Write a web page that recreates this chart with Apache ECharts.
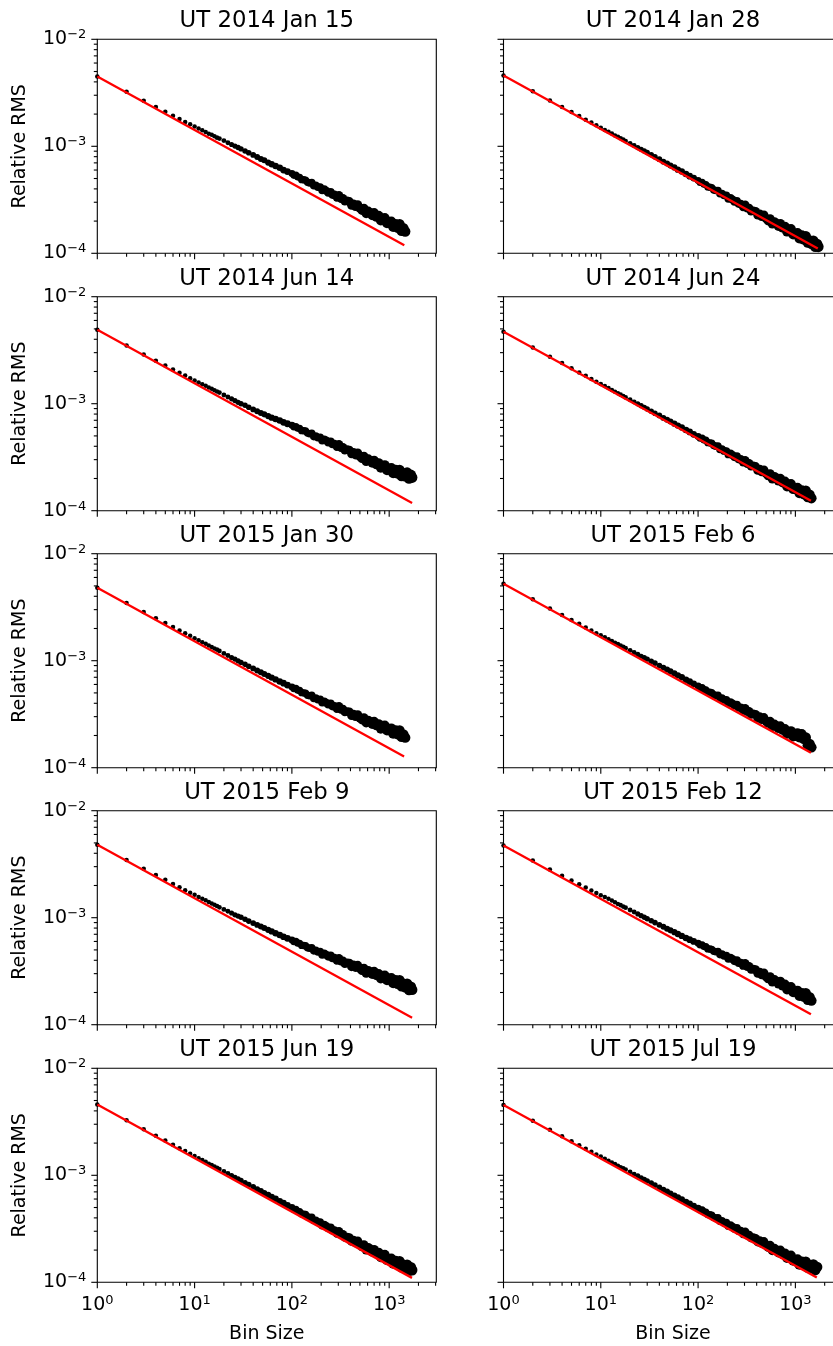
<!DOCTYPE html>
<html><head><meta charset="utf-8">
<script src="https://cdn.jsdelivr.net/npm/echarts@6/dist/echarts.min.js"></script>
<style>html,body{margin:0;padding:0;background:#fff}#c{width:833px;height:1346px}</style>
</head><body><div id="c"></div>
<script>
// ---------------- DATA ----------------
const binSizes = [1,2,3,4,5,6,7,8,9,10,11,12,13,14,15,16,17,18,20,22,24,26,28,30,33,36,40,44,48,52,57,62,68,75,82,90,
  100,105,110,115,120,126,132,138,145,152,160,168,176,185,195,205,215,225,237,250,262,275,290,305,320,335,350,370,390,410,
  430,450,475,500,525,550,580,610,640,670,700,740,780,820,860,900,950,1000,1050,1100,1160,1220,1280,1340,1400,1460,1530,1600,1670,1720];

const panelTitles = ['UT 2014 Jan 15','UT 2014 Jan 28','UT 2014 Jun 14','UT 2014 Jun 24','UT 2015 Jan 30','UT 2015 Feb 6','UT 2015 Feb 9','UT 2015 Feb 12','UT 2015 Jun 19','UT 2015 Jul 19'];

const rms2014Jan15 = [45.0e-4,32.3e-4,26.6e-4,23.3e-4,21.0e-4,19.3e-4,18.0e-4,16.9e-4,16.05e-4,15.3e-4,14.65e-4,14.1e-4,13.6e-4,13.1e-4,12.8e-4,12.4e-4,12.05e-4,11.8e-4,11.3e-4,10.8e-4,10.4e-4,10.05e-4,9.75e-4,9.45e-4,9.05e-4,8.7e-4,8.3e-4,7.95e-4,7.6e-4,7.4e-4,7.05e-4,6.8e-4,6.55e-4,6.3e-4,6.0e-4,5.8e-4,
  5.56e-4,5.35e-4,5.38e-4,5.16e-4,5.14e-4,4.88e-4,4.87e-4,4.83e-4,4.61e-4,4.55e-4,4.58e-4,4.28e-4,4.32e-4,4.16e-4,4.16e-4,3.88e-4,3.96e-4,3.85e-4,3.68e-4,3.74e-4,3.52e-4,3.53e-4,3.32e-4,3.49e-4,3.24e-4,3.27e-4,3.06e-4,3.09e-4,3.05e-4,2.81e-4,2.89e-4,2.73e-4,2.84e-4,2.63e-4,2.52e-4,2.63e-4,2.35e-4,2.47e-4,2.38e-4,2.26e-4,2.39e-4,2.18e-4,2.25e-4,2.02e-4,2.10e-4,2.14e-4,1.91e-4,1.92e-4,1.98e-4,1.76e-4,1.88e-4,1.73e-4,1.87e-4,1.62e-4,1.72e-4,1.60e-4];
const rms2014Jan28 = [45.8e-4,32.7e-4,26.85e-4,23.35e-4,20.9e-4,19.15e-4,17.75e-4,16.7e-4,15.7e-4,14.9e-4,14.2e-4,13.7e-4,13.15e-4,12.65e-4,12.25e-4,11.9e-4,11.55e-4,11.2e-4,10.65e-4,10.15e-4,9.72e-4,9.38e-4,9.05e-4,8.74e-4,8.33e-4,7.97e-4,7.57e-4,7.18e-4,6.9e-4,6.6e-4,6.34e-4,6.05e-4,5.81e-4,5.5e-4,5.26e-4,5.05e-4,
  4.78e-4,4.59e-4,4.61e-4,4.42e-4,4.39e-4,4.17e-4,4.15e-4,4.11e-4,3.91e-4,3.86e-4,3.87e-4,3.60e-4,3.62e-4,3.48e-4,3.47e-4,3.23e-4,3.29e-4,3.19e-4,3.04e-4,3.08e-4,2.90e-4,2.90e-4,2.71e-4,2.84e-4,2.63e-4,2.65e-4,2.48e-4,2.50e-4,2.47e-4,2.27e-4,2.33e-4,2.20e-4,2.28e-4,2.11e-4,2.01e-4,2.10e-4,1.88e-4,1.97e-4,1.89e-4,1.79e-4,1.89e-4,1.73e-4,1.78e-4,1.59e-4,1.66e-4,1.69e-4,1.50e-4,1.51e-4,1.55e-4,1.38e-4,1.47e-4,1.34e-4,1.45e-4,1.26e-4,1.32e-4,1.23e-4,1.31e-4,1.15e-4,1.22e-4,1.15e-4];
const rms2014Jun14 = [49.0e-4,35.0e-4,28.85e-4,25.2e-4,22.8e-4,20.9e-4,19.45e-4,18.3e-4,17.3e-4,16.5e-4,15.8e-4,15.2e-4,14.7e-4,14.2e-4,13.8e-4,13.35e-4,13.0e-4,12.7e-4,12.05e-4,11.55e-4,11.1e-4,10.7e-4,10.3e-4,10.0e-4,9.65e-4,9.27e-4,8.83e-4,8.5e-4,8.2e-4,7.95e-4,7.66e-4,7.4e-4,7.2e-4,6.96e-4,6.7e-4,6.5e-4,
  6.30e-4,6.07e-4,6.12e-4,5.89e-4,5.87e-4,5.60e-4,5.60e-4,5.56e-4,5.31e-4,5.24e-4,5.28e-4,4.93e-4,4.99e-4,4.82e-4,4.84e-4,4.53e-4,4.64e-4,4.52e-4,4.34e-4,4.42e-4,4.18e-4,4.20e-4,3.95e-4,4.18e-4,3.88e-4,3.92e-4,3.68e-4,3.72e-4,3.69e-4,3.40e-4,3.50e-4,3.32e-4,3.46e-4,3.21e-4,3.08e-4,3.22e-4,2.89e-4,3.04e-4,2.93e-4,2.79e-4,2.95e-4,2.70e-4,2.79e-4,2.51e-4,2.62e-4,2.67e-4,2.39e-4,2.42e-4,2.50e-4,2.24e-4,2.41e-4,2.22e-4,2.41e-4,2.11e-4,2.24e-4,2.10e-4,2.27e-4,2.00e-4,2.16e-4,2.04e-4];
const rms2014Jun24 = [47.0e-4,33.6e-4,27.5e-4,24.0e-4,21.45e-4,19.6e-4,18.2e-4,17.05e-4,16.05e-4,15.3e-4,14.6e-4,14.0e-4,13.4e-4,12.95e-4,12.5e-4,12.15e-4,11.8e-4,11.45e-4,10.9e-4,10.37e-4,9.97e-4,9.58e-4,9.24e-4,8.92e-4,8.5e-4,8.15e-4,7.77e-4,7.37e-4,7.09e-4,6.81e-4,6.51e-4,6.24e-4,5.99e-4,5.67e-4,5.45e-4,5.17e-4,
  4.95e-4,4.76e-4,4.78e-4,4.58e-4,4.56e-4,4.32e-4,4.31e-4,4.27e-4,4.06e-4,4.01e-4,4.02e-4,3.74e-4,3.77e-4,3.62e-4,3.61e-4,3.36e-4,3.43e-4,3.32e-4,3.17e-4,3.22e-4,3.02e-4,3.03e-4,2.83e-4,2.97e-4,2.75e-4,2.78e-4,2.60e-4,2.62e-4,2.59e-4,2.38e-4,2.45e-4,2.31e-4,2.40e-4,2.22e-4,2.12e-4,2.21e-4,1.98e-4,2.08e-4,2.00e-4,1.90e-4,2.00e-4,1.83e-4,1.88e-4,1.68e-4,1.75e-4,1.78e-4,1.59e-4,1.59e-4,1.64e-4,1.46e-4,1.55e-4,1.42e-4,1.54e-4,1.34e-4,1.41e-4,1.31e-4];
const rms2015Jan30 = [48.0e-4,34.6e-4,28.5e-4,24.95e-4,22.5e-4,20.7e-4,19.2e-4,18.05e-4,17.1e-4,16.25e-4,15.55e-4,14.9e-4,14.4e-4,13.85e-4,13.45e-4,13.0e-4,12.7e-4,12.33e-4,11.7e-4,11.2e-4,10.73e-4,10.35e-4,9.98e-4,9.64e-4,9.24e-4,8.88e-4,8.46e-4,8.1e-4,7.8e-4,7.52e-4,7.22e-4,6.95e-4,6.69e-4,6.4e-4,6.17e-4,5.92e-4,
  5.69e-4,5.48e-4,5.51e-4,5.29e-4,5.28e-4,5.02e-4,5.01e-4,4.97e-4,4.75e-4,4.70e-4,4.74e-4,4.43e-4,4.48e-4,4.33e-4,4.34e-4,4.06e-4,4.16e-4,4.05e-4,3.89e-4,3.97e-4,3.75e-4,3.77e-4,3.55e-4,3.75e-4,3.49e-4,3.53e-4,3.31e-4,3.35e-4,3.33e-4,3.07e-4,3.17e-4,3.00e-4,3.13e-4,2.91e-4,2.80e-4,2.93e-4,2.63e-4,2.77e-4,2.68e-4,2.55e-4,2.70e-4,2.48e-4,2.56e-4,2.31e-4,2.42e-4,2.48e-4,2.23e-4,2.26e-4,2.33e-4,2.08e-4,2.23e-4,2.05e-4,2.23e-4,1.94e-4,2.05e-4,1.91e-4];
const rms2015Feb6 = [52.5e-4,37.5e-4,30.75e-4,26.8e-4,24.05e-4,22.1e-4,20.45e-4,19.2e-4,18.1e-4,17.3e-4,16.55e-4,15.85e-4,15.3e-4,14.75e-4,14.3e-4,13.85e-4,13.5e-4,13.1e-4,12.5e-4,11.9e-4,11.45e-4,11.0e-4,10.65e-4,10.35e-4,9.87e-4,9.5e-4,9.0e-4,8.62e-4,8.26e-4,7.94e-4,7.61e-4,7.3e-4,7.0e-4,6.64e-4,6.38e-4,6.08e-4,
  5.80e-4,5.58e-4,5.61e-4,5.38e-4,5.35e-4,5.09e-4,5.08e-4,5.03e-4,4.80e-4,4.74e-4,4.76e-4,4.44e-4,4.48e-4,4.31e-4,4.31e-4,4.02e-4,4.10e-4,3.98e-4,3.81e-4,3.87e-4,3.64e-4,3.65e-4,3.42e-4,3.60e-4,3.34e-4,3.37e-4,3.15e-4,3.18e-4,3.15e-4,2.90e-4,2.99e-4,2.82e-4,2.94e-4,2.72e-4,2.60e-4,2.71e-4,2.43e-4,2.55e-4,2.45e-4,2.33e-4,2.45e-4,2.24e-4,2.31e-4,2.07e-4,2.16e-4,2.20e-4,1.96e-4,1.98e-4,2.10e-4,1.92e-4,2.06e-4,1.85e-4,1.92e-4,1.62e-4,1.67e-4,1.55e-4];
const rms2015Feb9 = [48.1e-4,34.7e-4,28.6e-4,25.0e-4,22.6e-4,20.7e-4,19.3e-4,18.1e-4,17.15e-4,16.35e-4,15.65e-4,15.05e-4,14.55e-4,14.0e-4,13.6e-4,13.2e-4,12.85e-4,12.5e-4,11.95e-4,11.5e-4,11.05e-4,10.65e-4,10.35e-4,10.1e-4,9.67e-4,9.3e-4,8.9e-4,8.56e-4,8.26e-4,8.0e-4,7.71e-4,7.45e-4,7.17e-4,6.89e-4,6.64e-4,6.41e-4,
  6.18e-4,5.96e-4,6.01e-4,5.78e-4,5.77e-4,5.50e-4,5.50e-4,5.47e-4,5.24e-4,5.19e-4,5.24e-4,4.90e-4,4.96e-4,4.80e-4,4.82e-4,4.51e-4,4.62e-4,4.51e-4,4.33e-4,4.42e-4,4.18e-4,4.21e-4,3.97e-4,4.19e-4,3.91e-4,3.96e-4,3.72e-4,3.78e-4,3.76e-4,3.48e-4,3.61e-4,3.43e-4,3.59e-4,3.34e-4,3.21e-4,3.37e-4,3.03e-4,3.20e-4,3.10e-4,2.96e-4,3.14e-4,2.89e-4,2.99e-4,2.70e-4,2.82e-4,2.89e-4,2.60e-4,2.64e-4,2.73e-4,2.44e-4,2.61e-4,2.41e-4,2.61e-4,2.28e-4,2.41e-4,2.24e-4,2.41e-4,2.11e-4,2.26e-4,2.12e-4];
const rms2015Feb12 = [47.4e-4,34.2e-4,28.2e-4,24.65e-4,22.25e-4,20.5e-4,19.15e-4,18.0e-4,17.05e-4,16.25e-4,15.6e-4,15.0e-4,14.45e-4,13.95e-4,13.45e-4,13.1e-4,12.7e-4,12.4e-4,11.8e-4,11.3e-4,10.85e-4,10.45e-4,10.1e-4,9.78e-4,9.36e-4,9.0e-4,8.58e-4,8.22e-4,7.9e-4,7.62e-4,7.32e-4,7.04e-4,6.76e-4,6.46e-4,6.23e-4,6.0e-4,
  5.76e-4,5.55e-4,5.59e-4,5.37e-4,5.36e-4,5.10e-4,5.10e-4,5.06e-4,4.85e-4,4.80e-4,4.84e-4,4.52e-4,4.57e-4,4.41e-4,4.42e-4,4.13e-4,4.23e-4,4.11e-4,3.93e-4,4.00e-4,3.78e-4,3.79e-4,3.56e-4,3.76e-4,3.48e-4,3.52e-4,3.29e-4,3.31e-4,3.28e-4,3.02e-4,3.10e-4,2.93e-4,3.05e-4,2.81e-4,2.69e-4,2.80e-4,2.51e-4,2.63e-4,2.53e-4,2.41e-4,2.54e-4,2.31e-4,2.38e-4,2.13e-4,2.21e-4,2.25e-4,2.01e-4,2.02e-4,2.08e-4,1.86e-4,1.98e-4,1.82e-4,1.97e-4,1.71e-4,1.81e-4,1.68e-4];
const rms2015Jun19 = [45.8e-4,32.7e-4,26.95e-4,23.45e-4,21.1e-4,19.25e-4,17.9e-4,16.85e-4,15.9e-4,15.15e-4,14.45e-4,13.9e-4,13.35e-4,12.85e-4,12.5e-4,12.1e-4,11.75e-4,11.45e-4,10.85e-4,10.4e-4,9.95e-4,9.55e-4,9.25e-4,8.95e-4,8.53e-4,8.2e-4,7.78e-4,7.43e-4,7.14e-4,6.83e-4,6.56e-4,6.28e-4,6.03e-4,5.71e-4,5.49e-4,5.22e-4,
  4.99e-4,4.79e-4,4.82e-4,4.61e-4,4.59e-4,4.36e-4,4.34e-4,4.30e-4,4.10e-4,4.04e-4,4.06e-4,3.78e-4,3.80e-4,3.65e-4,3.65e-4,3.39e-4,3.46e-4,3.35e-4,3.20e-4,3.25e-4,3.05e-4,3.06e-4,2.86e-4,3.00e-4,2.78e-4,2.81e-4,2.63e-4,2.65e-4,2.62e-4,2.41e-4,2.48e-4,2.34e-4,2.43e-4,2.25e-4,2.15e-4,2.24e-4,2.01e-4,2.11e-4,2.03e-4,1.92e-4,2.02e-4,1.85e-4,1.90e-4,1.71e-4,1.78e-4,1.81e-4,1.61e-4,1.63e-4,1.67e-4,1.49e-4,1.59e-4,1.46e-4,1.58e-4,1.38e-4,1.46e-4,1.36e-4,1.46e-4,1.28e-4,1.38e-4,1.30e-4];
const rms2015Jul19 = [45.4e-4,32.4e-4,26.6e-4,23.15e-4,20.8e-4,19.1e-4,17.7e-4,16.6e-4,15.65e-4,14.95e-4,14.25e-4,13.7e-4,13.15e-4,12.75e-4,12.3e-4,11.9e-4,11.6e-4,11.3e-4,10.75e-4,10.25e-4,9.87e-4,9.48e-4,9.18e-4,8.87e-4,8.45e-4,8.1e-4,7.72e-4,7.33e-4,7.04e-4,6.74e-4,6.47e-4,6.2e-4,5.95e-4,5.63e-4,5.41e-4,5.15e-4,
  4.92e-4,4.73e-4,4.75e-4,4.55e-4,4.53e-4,4.30e-4,4.29e-4,4.24e-4,4.04e-4,3.99e-4,4.01e-4,3.73e-4,3.75e-4,3.61e-4,3.60e-4,3.35e-4,3.42e-4,3.31e-4,3.16e-4,3.21e-4,3.02e-4,3.02e-4,2.82e-4,2.97e-4,2.75e-4,2.77e-4,2.59e-4,2.62e-4,2.58e-4,2.38e-4,2.45e-4,2.31e-4,2.40e-4,2.22e-4,2.12e-4,2.21e-4,1.98e-4,2.07e-4,1.99e-4,1.89e-4,1.99e-4,1.82e-4,1.87e-4,1.68e-4,1.74e-4,1.78e-4,1.59e-4,1.60e-4,1.64e-4,1.46e-4,1.56e-4,1.44e-4,1.56e-4,1.37e-4,1.45e-4,1.36e-4,1.47e-4,1.30e-4,1.39e-4];

// red reference line: start (bin size 1) and end points
const redStartRms = [45.0e-4,45.8e-4,49.0e-4,47.0e-4,48.0e-4,52.5e-4,48.1e-4,47.4e-4,45.8e-4,45.4e-4];
const redEndBin = [1430,1700,1720,1445,1423,1445,1720,1445,1716,1660];
const redEndRms = [1.19e-4,1.11e-4,1.18e-4,1.24e-4,1.27e-4,1.38e-4,1.16e-4,1.25e-4,1.10e-4,1.11e-4];

// axis ticks
const xMajorTicks = [1,10,100,1000];
const xMinorTicks = [2,3,4,5,6,7,8,9,20,30,40,50,60,70,80,90,200,300,400,500,600,700,800,900,2000,3000];
const yMajorTicks = [1e-4,1e-3,1e-2];
const yMinorTicks = [2e-4,3e-4,4e-4,5e-4,6e-4,7e-4,8e-4,9e-4,2e-3,3e-3,4e-3,5e-3,6e-3,7e-3,8e-3,9e-3];

const rmsSeries = [rms2014Jan15,rms2014Jan28,rms2014Jun14,rms2014Jun24,rms2015Jan30,rms2015Feb6,rms2015Feb9,rms2015Feb12,rms2015Jun19,rms2015Jul19];

// ---------------- LAYOUT / STYLE ----------------
const FONT = 'DejaVu Sans';
const LEFTS = [97.3, 503.5];
const TOPS = [39.3, 296.7, 553.7, 810.7, 1068.3];
const W = 339, H = 214;
const X_MIN = 1, X_MAX = 3050, Y_MIN = 1e-4, Y_MAX = 1e-2;

const rich = {
  b: {fontFamily: FONT, fontSize: 19, lineHeight: 30, color: '#000'},
  s: {fontFamily: FONT, fontSize: 13, lineHeight: 13, verticalAlign: 'top', padding: [4, 0, 0, 0], color: '#000'}
};
function decadeLabel(v) {
  const e = Math.log10(v), r = Math.round(e);
  if (Math.abs(e - r) > 1e-6) return '';
  return '{b|10}{s|' + (r < 0 ? '\u2212' + (-r) : String(r)) + '}';
}
function dotSize(val) {
  const t = Math.max(0, Math.log10(val[0]) - 1.18);
  return 4.5 + 3.0 * t;
}

const grids = [], xAxes = [], yAxes = [], series = [], graphics = [];
for (let i = 0; i < 10; i++) {
  const row = Math.floor(i / 2), col = i % 2;
  grids.push({left: LEFTS[col], top: TOPS[row], width: W, height: H, show: true,
    borderColor: '#000', borderWidth: 1.1, backgroundColor: 'transparent',
    containLabel: false, outerBoundsMode: 'none'});
  xAxes.push({type: 'log', logBase: 10, gridIndex: i, min: X_MIN, max: X_MAX,
    axisLine: {show: false}, axisTick: {show: false}, splitLine: {show: false}, minorTick: {show: false},
    axisLabel: {show: row === 4, formatter: decadeLabel, rich: rich, margin: 8, hideOverlap: false}});
  yAxes.push({type: 'log', logBase: 10, gridIndex: i, min: Y_MIN, max: Y_MAX,
    axisLine: {show: false}, axisTick: {show: false}, splitLine: {show: false}, minorTick: {show: false},
    axisLabel: {show: col === 0, formatter: decadeLabel, rich: rich, margin: 11, hideOverlap: false}});

  series.push({type: 'scatter', xAxisIndex: i, yAxisIndex: i, silent: true, z: 2,
    data: rmsSeries[i].map((v, k) => [binSizes[k], v]),
    symbol: 'circle', symbolSize: dotSize, itemStyle: {color: '#000', opacity: 1}});
  series.push({type: 'line', xAxisIndex: i, yAxisIndex: i, silent: true, z: 3,
    data: [[1, redStartRms[i]], [redEndBin[i], redEndRms[i]]],
    symbol: 'none', showSymbol: false, lineStyle: {color: '#ff0000', width: 2.3}});

  const tickData = [];
  xMajorTicks.forEach(v => tickData.push([v, Y_MIN, 0]));
  xMinorTicks.forEach(v => tickData.push([v, Y_MIN, 1]));
  yMajorTicks.forEach(v => tickData.push([X_MIN, v, 2]));
  yMinorTicks.forEach(v => tickData.push([X_MIN, v, 3]));
  series.push({type: 'custom', xAxisIndex: i, yAxisIndex: i, silent: true, clip: false, z: 4,
    encode: {x: 0, y: 1}, data: tickData,
    renderItem: function (params, api) {
      const p = api.coord([api.value(0), api.value(1)]);
      const k = api.value(2);
      const len = (k === 0 || k === 2) ? 6 : 3.5;
      const shape = k < 2 ? {x1: p[0], y1: p[1], x2: p[0], y2: p[1] + len}
                          : {x1: p[0] - len, y1: p[1], x2: p[0], y2: p[1]};
      return {type: 'line', shape: shape, style: {stroke: '#000', lineWidth: 1.1}};
    }});

  graphics.push({type: 'text', x: LEFTS[col] + W / 2, y: TOPS[row] - 18,
    style: {text: panelTitles[i], fontFamily: FONT, fontSize: 22.8, fill: '#000', align: 'center', verticalAlign: 'middle'}});
}
for (let r = 0; r < 5; r++) {
  graphics.push({type: 'text', x: 20, y: TOPS[r] + H / 2, rotation: Math.PI / 2,
    style: {text: 'Relative RMS', fontFamily: FONT, fontSize: 19, fill: '#000', align: 'center', verticalAlign: 'middle'}});
}
for (let c = 0; c < 2; c++) {
  graphics.push({type: 'text', x: LEFTS[c] + W / 2, y: 1334,
    style: {text: 'Bin Size', fontFamily: FONT, fontSize: 19, fill: '#000', align: 'center', verticalAlign: 'middle'}});
}

const chart = echarts.init(document.getElementById('c'), null, {renderer: 'canvas'});
chart.setOption({
  animation: false,
  backgroundColor: '#fff',
  tooltip: {show: false},
  grid: grids, xAxis: xAxes, yAxis: yAxes, series: series, graphic: graphics
});
</script></body></html>
